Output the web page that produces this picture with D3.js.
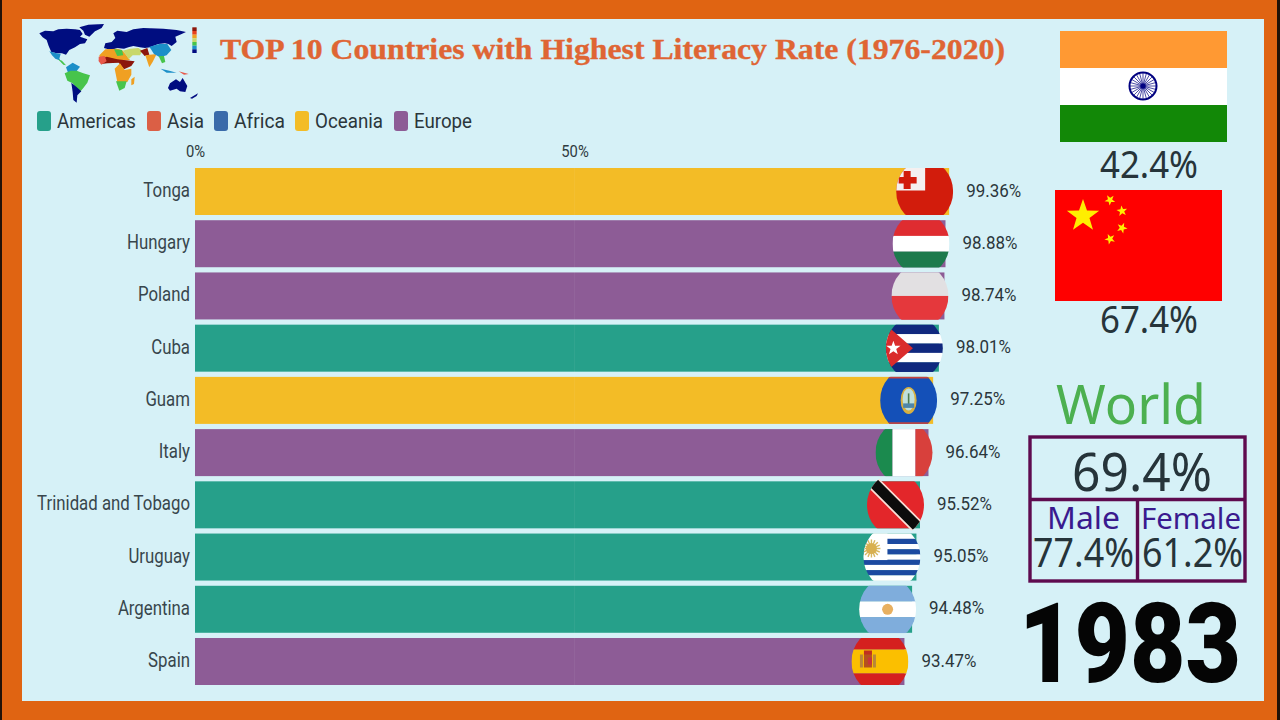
<!DOCTYPE html>
<html><head><meta charset="utf-8">
<script src="https://cdn.jsdelivr.net/npm/d3@7"></script>
<style>html,body{margin:0;padding:0;background:#E06412;overflow:hidden}svg{display:block}</style>
</head><body><svg id="c" width="1280" height="720"></svg>
<script>
const countries = ["Tonga","Hungary","Poland","Cuba","Guam","Italy","Trinidad and Tobago","Uruguay","Argentina","Spain"];
const literacy = [99.36,98.88,98.74,98.01,97.25,96.64,95.52,95.05,94.48,93.47];
const regionOf = ["Oceania","Europe","Europe","Americas","Oceania","Europe","Americas","Americas","Americas","Europe"];
const regions = ["Americas","Asia","Africa","Oceania","Europe"];
const regionColors = ["#26A08A","#DB5F45","#3A6BAA","#F3BC26","#8D5C96"];
const axisTicks = [0,50];
const title = "TOP 10 Countries with Highest Literacy Rate (1976-2020)";
const year = "1983";
const indiaRate = "42.4%", chinaRate = "67.4%", worldRate = "69.4%", maleRate = "77.4%", femaleRate = "61.2%";

const svg = d3.select("#c");
const C = 0.84;
const cond = "Roboto, sans-serif";
const sans = "'Noto Sans', sans-serif";
function txt(p, s, x, y, size, o={}) {
  const t = p.append("text").attr("x",x).attr("y",y).attr("font-size",size)
    .attr("font-family",o.font||cond).attr("fill",o.fill||"#2F3B40")
    .attr("font-weight",o.weight||400).attr("text-anchor",o.anchor||"start").text(s);
  const w = o.width || t.node().getComputedTextLength()*(o.k||C);
  t.attr("textLength",w).attr("lengthAdjust","spacingAndGlyphs");
  return t;
}
function box(p,x,y,w,h,fill){return p.append("rect").attr("x",x).attr("y",y).attr("width",w).attr("height",h).attr("fill",fill);}

// frame
box(svg,0,0,1280,720,"#E06412");
box(svg,0,0,2,720,"#221208");
box(svg,1277,0,3,720,"#221208");
box(svg,22,19,1242,682,"#D6F1F7");

// map icon, sketched in a 570x270 frame
const navy="#000A80",sky="#1E8FC8",lime="#46C44C",amber="#F0A020",rust="#8C1408",pale="#C8D86A",coral="#E8584A";
const mapShapes = [
 [navy,"28,40 45,32 70,34 85,28 110,26 135,28 150,30 158,42 150,50 172,58 165,70 150,72 135,82 118,90 108,104 96,100 80,100 64,96 56,78 50,60 38,52"],
 [navy,"148,22 175,14 222,12 215,24 195,34 178,50 165,44 160,32"],
 [sky,"58,94 80,100 92,102 88,116 92,122 76,116 66,106"],
 [lime,"84,118 96,122 108,136 100,134"],
 [sky,"108,142 128,128 150,140 138,156 114,158"],
 [lime,"104,160 122,152 140,152 160,160 180,166 172,188 160,204 150,216 136,200 128,190 112,182"],
 [navy,"124,188 136,198 154,214 142,226 140,248 130,240 128,216"],
 [navy,"222,84 226,70 245,66 256,54 250,40 262,32 290,36 310,28 340,24 400,26 440,30 468,36 450,44 436,50 440,66 425,78 415,72 405,70 385,72 360,82 345,84 330,82 310,78 295,82 282,86 262,84 250,88 235,88"],
 [amber,"208,106 226,88 262,86 276,90 288,104 300,120 270,122 230,128 214,130"],
 [pale,"278,92 300,86 325,84 338,92 330,106 308,106 296,118 288,104"],
 [lime,"252,88 276,90 280,106 262,108"],
 [rust,"206,120 230,110 262,118 314,124 304,138 282,148 266,128 232,130 214,132"],
 [coral,"206,110 224,108 230,124 214,134 206,124"],
 [amber,"254,146 270,130 284,150 304,146 304,164 292,186 262,186"],
 [lime,"258,184 290,184 284,204 268,212"],
 [rust,"330,92 352,84 358,104 344,108"],
 [amber,"346,106 380,102 368,126 358,142"],
 [sky,"358,80 388,72 412,72 424,90 410,106 390,112 372,102"],
 [lime,"386,108 402,108 406,126 396,130"],
 [sky,"392,146 418,152 440,158 410,158"],
 [amber,"304,178 314,170 312,192 304,196"],
 [navy,"414,204 420,190 438,178 450,186 458,174 472,198 466,216 450,214 440,206 420,212"],
 [navy,"480,234 504,220 500,228 486,236"],
 [coral,"446,154 476,162 462,164"]
];
const blur=svg.append("defs").append("filter").attr("id","soft");
blur.append("feGaussianBlur").attr("stdDeviation",1.6);
const gMap = svg.append("g").attr("transform","translate(30,20) scale(0.3333)").attr("filter","url(#soft)");
gMap.selectAll("polygon").data(mapShapes).join("polygon").attr("points",d=>d[1]).attr("fill",d=>d[0]);
const ramp = [rust,"#E8401A",amber,pale,lime,sky,navy];
gMap.selectAll("rect.r").data(ramp).join("rect").attr("x",487).attr("y",(d,i)=>22+i*11).attr("width",13).attr("height",11).attr("fill",d=>d);

// title
txt(svg,title,220,59,30,{font:"'Liberation Serif', serif",weight:700,fill:"#DF6534",width:785})
  .attr("stroke","#DF6534").attr("stroke-width",0.35);

// legend
const legendX = [37,147,214,295,394], legendW = [79,37,51,68,58];
regions.forEach((r,i)=>{
  svg.append("rect").attr("x",legendX[i]).attr("y",111).attr("width",14).attr("height",20).attr("rx",3).attr("fill",regionColors[i]);
  txt(svg,r,legendX[i]+20,128,20,{width:legendW[i],fill:"#2B363B"});
});

// scales
const x = d3.scaleLinear().domain([0,100]).range([195,954]);
const y = d3.scaleBand().domain(countries).range([168,685]).paddingInner(0.1).paddingOuter(0);
const color = d3.scaleOrdinal().domain(regions).range(regionColors);
const rows = countries.map((c,i)=>({c,v:literacy[i],r:regionOf[i]}));

// bars
svg.append("g").selectAll("rect").data(rows).join("rect")
  .attr("x",x(0)).attr("y",d=>y(d.c)).attr("width",d=>x(d.v)-x(0)).attr("height",y.bandwidth())
  .attr("fill",d=>color(d.r));

// axis
const ax = svg.append("g").attr("transform","translate(0,156.5)")
  .call(d3.axisTop(x).tickValues(axisTicks).tickSize(0).tickFormat(d=>d+"%"));
ax.select(".domain").remove();
ax.selectAll("text").attr("font-family",cond).attr("font-size",17).attr("fill","#2F3B40").attr("dy",0).attr("y",0)
  .each(function(){const w=this.getComputedTextLength()*0.87;d3.select(this).attr("textLength",w).attr("lengthAdjust","spacingAndGlyphs");});
svg.append("g").selectAll("line").data(axisTicks.slice(1)).join("line")
  .attr("x1",d=>x(d)).attr("x2",d=>x(d)).attr("y1",168).attr("y2",685).attr("stroke","#ffffff").attr("stroke-opacity",0.05);

// category and value labels
rows.forEach(d=>{
  const mid=y(d.c)+y.bandwidth()/2;
  txt(svg,d.c,190,mid+5.5,20,{anchor:"end",fill:"#38464C",k:0.84});
  txt(svg,d.v.toFixed(2)+"%",x(d.v)+17,mid+5,18,{fill:"#2B363B",width:55});
});

// flags
const RX=28.5,RY=31.5,H=y.bandwidth()/2,R=RX;
const defs=svg.append("defs");
const starPts=(cx,cy,r,rot=-90)=>d3.range(10).map(i=>{const a=(rot+i*36)*Math.PI/180,q=i%2?r*0.4:r;return [cx+q*Math.cos(a),cy+q*Math.sin(a)].join(",");}).join(" ");
function stripes(g,cols){const h=2*H/cols.length;cols.forEach((c,i)=>box(g,-R,-H+i*h,2*R,h+.3,c));}
const flags={
 Tonga(g){box(g,-R,-H,2*R,2*H,"#D21C0C");box(g,-R,-H,29,22.5,"#F4F0F0");box(g,-R+7.5,-H+3,7,18,"#D21C0C");box(g,-R+2.5,-H+9,18,6.5,"#D21C0C");},
 Hungary(g){stripes(g,["#DF2C30","#FFFFFF","#1C7A4C"]);},
 Poland(g){stripes(g,["#E2E0E2","#E5383C"]);},
 Cuba(g){stripes(g,["#10287E","#FFFFFF","#10287E","#FFFFFF","#10287E"]);
   g.append("polygon").attr("points",`${-R},${-H} ${-R+27},0 ${-R},${H}`).attr("fill","#DA2C2C");
   g.append("polygon").attr("points",starPts(-R+7.5,0,7.5)).attr("fill","#fff");},
 Guam(g){box(g,-R,-H,2*R,2*H,"#1450B8");box(g,-R,-H,2*R,1.6,"#C8423C");box(g,-R,H-1.6,2*R,1.6,"#C8423C");
   g.append("ellipse").attr("rx",8).attr("ry",13.5).attr("fill","#D8B040");
   g.append("ellipse").attr("cy",-1).attr("rx",6).attr("ry",11).attr("fill","#BFE0DC");
   box(g,-.8,-7,1.6,11,"#4E7A50");box(g,-5.5,3,11,4.5,"#4E86A8");},
 Italy(g){[["#1B8A4E",-R,17],["#FFFFFF",-R+17,23],["#D8403C",-R+40,18]].forEach(s=>box(g,s[1],-H,s[2],2*H,s[0]));},
 "Trinidad and Tobago"(g){box(g,-R,-H,2*R,2*H,"#E3262A");
   g.append("line").attr("x1",-24).attr("y1",-24).attr("x2",24).attr("y2",24).attr("stroke","#FBE0D8").attr("stroke-width",14);
   g.append("line").attr("x1",-24).attr("y1",-24).attr("x2",24).attr("y2",24).attr("stroke","#0C0C0C").attr("stroke-width",10.5);},
 Uruguay(g){stripes(g,["#fff","#1C4AA0","#fff","#1C4AA0","#fff","#1C4AA0","#fff","#1C4AA0","#fff"]);
   box(g,-R,-H,R-4.5,26.5,"#fff");
   d3.range(16).forEach(i=>{const a=i*22.5*Math.PI/180;g.append("line").attr("x1",-R+8).attr("y1",-H+15).attr("x2",-R+8+9*Math.cos(a)).attr("y2",-H+15+9*Math.sin(a)).attr("stroke","#D8B860").attr("stroke-width",1.4);});
   g.append("circle").attr("cx",-R+8).attr("cy",-H+15).attr("r",5.5).attr("fill","#D8B050");},
 Argentina(g){stripes(g,["#7FADDC","#FFFFFF","#7FADDC"]);g.append("circle").attr("r",5.5).attr("fill","#E8B060");},
 Spain(g){[["#D5201F",-H,11.5],["#FBBF00",-H+11.5,24],["#D5201F",H-11.5,11.5]].forEach(s=>box(g,-R,s[1],2*R,s[2],s[0]));
   box(g,-20,-7,3,13,"#B8863A");box(g,-7,-7,3,13,"#B8863A");box(g,-16,-8,8,14,"#B5521E");box(g,-16,-11,8,4,"#C03020");box(g,-12,-4,4,7,"#C8343A");},
};
rows.forEach((d,i)=>{
  const cid="fc"+i;
  defs.append("clipPath").attr("id",cid).append("ellipse").attr("rx",RX).attr("ry",RY);
  const g=svg.append("g").attr("transform",`translate(${x(d.v)-24.5},${y(d.c)+H})`).append("g").attr("clip-path",`url(#${cid})`);
  flags[d.c](g);
});

// India
box(svg,1060,31,167,37,"#FF9933");box(svg,1060,68,167,37,"#FFFFFF");box(svg,1060,105,167,37,"#128807");
const chakra=svg.append("g").attr("transform","translate(1143,86)");
chakra.append("circle").attr("r",13.5).attr("fill","none").attr("stroke","#000080").attr("stroke-width",2);
d3.range(24).forEach(i=>{const a=i*15*Math.PI/180;chakra.append("line").attr("x2",13*Math.cos(a)).attr("y2",13*Math.sin(a)).attr("stroke","#000080").attr("stroke-width",.7);});
chakra.append("circle").attr("r",2.6).attr("fill","#000080");
txt(svg,indiaRate,1100,178,38,{width:98,fill:"#26343A",font:sans});

// China
box(svg,1055,190,167,111,"#FF0000");
svg.append("polygon").attr("points",starPts(1083,216,17)).attr("fill","#FFEE00");
[[1110,200,-50],[1122,211,-25],[1122,228,5],[1110,239,30]].forEach(s=>svg.append("polygon").attr("points",starPts(s[0],s[1],5.6,s[2])).attr("fill","#FFEE00"));
txt(svg,chinaRate,1100,333,38,{width:98,fill:"#26343A",font:sans});

// World panel
txt(svg,"World",1056,424,54,{font:sans,fill:"#4CB050",width:150});
const P="#5E0B4F";
svg.append("rect").attr("x",1030).attr("y",437).attr("width",215).attr("height",144).attr("fill","none").attr("stroke",P).attr("stroke-width",3.4);
svg.append("line").attr("x1",1030).attr("x2",1245).attr("y1",499.5).attr("y2",499.5).attr("stroke",P).attr("stroke-width",3.4);
svg.append("line").attr("x1",1137.5).attr("x2",1137.5).attr("y1",499).attr("y2",581).attr("stroke",P).attr("stroke-width",3.4);
txt(svg,worldRate,1072,491,52,{font:sans,fill:"#26343A",width:140});
txt(svg,"Male",1047,529,31,{font:sans,fill:"#3A1A8E",width:73});
txt(svg,"Female",1141,529,29,{font:sans,fill:"#3A1A8E",width:100});
txt(svg,maleRate,1033,567,40,{font:sans,fill:"#26343A",width:101});
txt(svg,femaleRate,1142,567,40,{font:sans,fill:"#26343A",width:101});

// year
txt(svg,year,1019,682,112,{font:cond,weight:900,fill:"#050505",width:222});
</script></body></html>
